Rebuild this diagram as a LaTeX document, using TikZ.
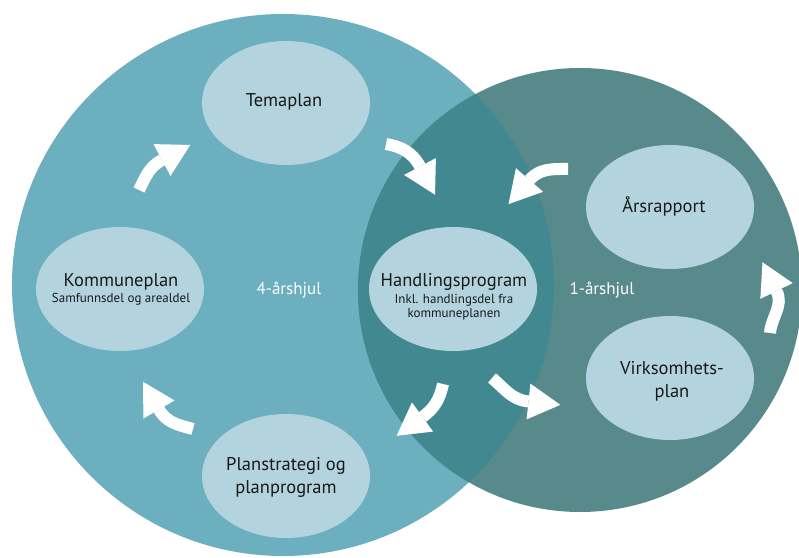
\documentclass[tikz,border=0pt]{standalone}
\usepackage{fontspec}
\setmainfont{PT Sans}
\usetikzlibrary{shapes.geometric,calc}

\definecolor{wheelA}{HTML}{6CAFBF}
\definecolor{wheelB}{HTML}{588A8B}
\definecolor{wheelAB}{HTML}{428891}
\definecolor{stagefill}{HTML}{B3D4DE}

\tikzset{
  stage/.style={ellipse, fill=stagefill, minimum width=168pt, minimum height=124pt, inner sep=0pt},
  title/.style={anchor=base, inner sep=0pt, font=\fontsize{18.5}{22}\selectfont, text=black!90},
  sub/.style={anchor=base, inner sep=0pt, font=\fontsize{13}{15}\selectfont, text=black!90},
  wheelname/.style={anchor=base, inner sep=0pt, font=\fontsize{17}{20}\selectfont, text=white},
  shaft/.style={draw=white, line width=12pt, line cap=butt},
}

% curved block arrow: tail coordinate, start angle, base of head, heading
\newcommand{\wheelarrow}[4]{%
  \pgfmathsetmacro\arrowin{#4+180}%
  \draw[shaft] (#1) to[out=#2,in=\arrowin] (#3);
  \fill[white] ($(#3)+(#4+90:18pt)$) -- ($(#3)+(#4-90:18pt)$) -- ($(#3)+(#4:32pt)$) -- cycle;
}

\begin{document}
\begin{tikzpicture}[x=1pt,y=1pt]
\useasboundingbox (0,0) rectangle (799,557);

% the two wheels
\node[circle, fill=wheelA, minimum size=542pt, inner sep=0pt] (four) at (283,272) {};
\node[circle, fill=wheelB, minimum size=444pt, inner sep=0pt] (one) at (580,267) {};
\begin{scope}
  \clip (283,272) circle (271pt);
  \fill[wheelAB] (580,267) circle (222pt);
\end{scope}

% stages
\node[stage] (tema) at (286,454) {};
\node[stage] (komm) at (120,268) {};
\node[stage] (plan) at (286,81) {};
\node[stage] (hand) at (453,268) {};
\node[stage] (aars) at (670,350) {};
\node[stage] (virk) at (670,179) {};

% labels
\node[title] (tema-t) at (284,450) {Temaplan};
\node[title] (komm-t) at (121,270) {Kommuneplan};
\node[sub]   (komm-s) at (121,254) {Samfunnsdel og arealdel};
\node[title] (hand-t) at (454,270) {Handlingsprogram};
\node[sub]   (hand-s1) at (454,253) {Inkl. handlingsdel fra};
\node[sub]   (hand-s2) at (454,240) {kommuneplanen};
\node[title] (plan-t1) at (286,87) {Planstrategi og};
\node[title] (plan-t2) at (286,64) {planprogram};
\node[title] (virk-t1) at (672,183) {Virksomhets-};
\node[title] (virk-t2) at (672,160) {plan};
\node[title] (aars-t) at (664,344) {Årsrapport};
\node[wheelname] (four-t) at (289,262) {4-årshjul};
\node[wheelname] (one-t) at (602,262) {1-årshjul};

% arrow anchors
\coordinate (a1-tail) at (139,367);   \coordinate (a1-base) at (162,397);
\coordinate (a2-tail) at (386,413);   \coordinate (a2-base) at (420,390.5);
\coordinate (a3-tail) at (568,388);   \coordinate (a3-base) at (529.5,377);
\coordinate (a4-tail) at (443,173);   \coordinate (a4-base) at (422.5,140);
\coordinate (a5-tail) at (492,179);   \coordinate (a5-base) at (528.5,155.5);
\coordinate (a6-tail) at (770,224);   \coordinate (a6-base) at (776.5,266);
\coordinate (a7-tail) at (193,128);   \coordinate (a7-base) at (159,147.5);

\wheelarrow{a1-tail}{63}{a1-base}{28}
\wheelarrow{a2-tail}{-10}{a2-base}{-62}
\wheelarrow{a3-tail}{180}{a3-base}{229}
\wheelarrow{a4-tail}{-102}{a4-base}{216}
\wheelarrow{a5-tail}{-40}{a5-base}{-6}
\wheelarrow{a6-tail}{85}{a6-base}{116}
\wheelarrow{a7-tail}{165}{a7-base}{120}
\end{tikzpicture}
\end{document}
